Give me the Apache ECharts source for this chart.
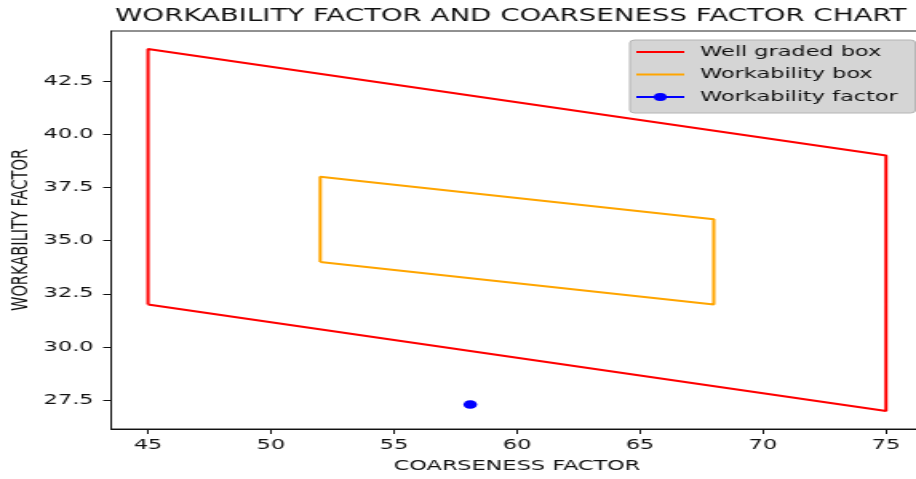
<!DOCTYPE html>
<html>
<head>
<meta charset="utf-8">
<script src="https://cdn.jsdelivr.net/npm/echarts@6/dist/echarts.min.js"></script>
<style>
html,body{margin:0;padding:0;background:#fff;}
#wrap{width:916px;height:479px;overflow:hidden;position:relative;background:#fff;}
#main{width:573px;height:479px;transform:scaleX(1.59860);transform-origin:0 0;}
</style>
</head>
<body>
<div id="wrap"><div id="main"></div></div>
<script>
// ---- data ----
const titleText = 'WORKABILITY FACTOR AND COARSENESS FACTOR CHART';
const xAxisName = 'COARSENESS FACTOR';
const yAxisName = 'WORKABILITY FACTOR';
const seriesNames = ['Well graded box', 'Workability box', 'Workability factor'];
const wellX = [45, 45, 75, 75, 45];
const wellY = [32, 44, 39, 27, 32];
const workX = [52, 52, 68, 68, 52];
const workY = [34, 38, 36, 32, 34];
const pointX = [58.1];
const pointY = [27.3];
const xTicks = [45, 50, 55, 60, 65, 70, 75];
const yTicks = [27.5, 30, 32.5, 35, 37.5, 40, 42.5];

const zip = (xs, ys) => xs.map((x, i) => [x, ys[i]]);
const font = 'DejaVu Sans';

const chart = echarts.init(document.getElementById('main'), null, {renderer: 'canvas', width: 573, height: 479});
chart.setOption({
  animation: false,
  backgroundColor: '#fff',
  title: {
    text: titleText,
    left: 319.5,
    textAlign: 'center',
    top: 8,
    padding: 0,
    textStyle: {fontFamily: font, fontSize: 17.3, fontWeight: 'normal', color: '#111'}
  },
  legend: {
    data: [
      {name: seriesNames[0], itemStyle: {opacity: 0}},
      {name: seriesNames[1], itemStyle: {opacity: 0}},
      {name: seriesNames[2]}
    ],
    orient: 'vertical',
    left: 394,
    top: 40,
    padding: [5, 11, 9, 3],
    itemWidth: 30,
    itemHeight: 10,
    itemGap: 8.5,
    backgroundColor: '#d5d5d5',
    borderColor: '#b4b4b4',
    borderWidth: 1,
    borderRadius: 3,
    textStyle: {fontFamily: font, fontSize: 14, color: '#111', padding: [0, 0, 0, 5]}
  },
  grid: {
    left: 69.5,
    right: -4.3,
    top: 31,
    bottom: 50,
    show: true,
    borderColor: '#222',
    borderWidth: 1,
    backgroundColor: 'transparent',
    outerBoundsMode: 'none',
    containLabel: false
  },
  xAxis: {
    type: 'value',
    min: 43.5,
    max: 76.5,
    name: xAxisName,
    nameLocation: 'middle',
    nameGap: 30,
    nameMoveOverlap: false,
    nameTextStyle: {fontFamily: font, fontSize: 14, color: '#111'},
    splitLine: {show: false},
    axisLine: {lineStyle: {color: '#111', width: 1}},
    axisTick: {show: true, length: 5, lineStyle: {color: '#111'}, customValues: xTicks},
    axisLabel: {fontFamily: font, fontSize: 14, color: '#111', margin: 9, customValues: xTicks}
  },
  yAxis: {
    type: 'value',
    min: 26.15,
    max: 44.85,
    name: yAxisName,
    nameLocation: 'middle',
    nameGap: 49,
    nameMoveOverlap: false,
    nameRotate: 90,
    nameTextStyle: {fontFamily: font, fontSize: 14.6, color: '#111'},
    splitLine: {show: false},
    axisLine: {show: true, lineStyle: {color: '#111', width: 1}},
    axisTick: {show: true, length: 5, lineStyle: {color: '#111'}, customValues: yTicks},
    axisLabel: {fontFamily: font, fontSize: 14, color: '#111', margin: 11, customValues: yTicks,
      formatter: v => Number(v).toFixed(1)}
  },
  series: [
    {
      name: seriesNames[0], type: 'line', data: zip(wellX, wellY),
      symbol: 'none', color: '#ff0000',
      itemStyle: {color: '#ff0000', opacity: 0},
      lineStyle: {color: '#ff0000', width: 2}
    },
    {
      name: seriesNames[1], type: 'line', data: zip(workX, workY),
      symbol: 'none', color: '#ffa500',
      itemStyle: {color: '#ffa500', opacity: 0},
      lineStyle: {color: '#ffa500', width: 2}
    },
    {
      name: seriesNames[2], type: 'line', data: zip(pointX, pointY),
      symbol: 'circle', symbolSize: 8.5, showSymbol: true, color: '#0000ff',
      itemStyle: {color: '#0000ff'},
      lineStyle: {color: '#0000ff', width: 2}
    }
  ]
});
</script>
</body>
</html>
